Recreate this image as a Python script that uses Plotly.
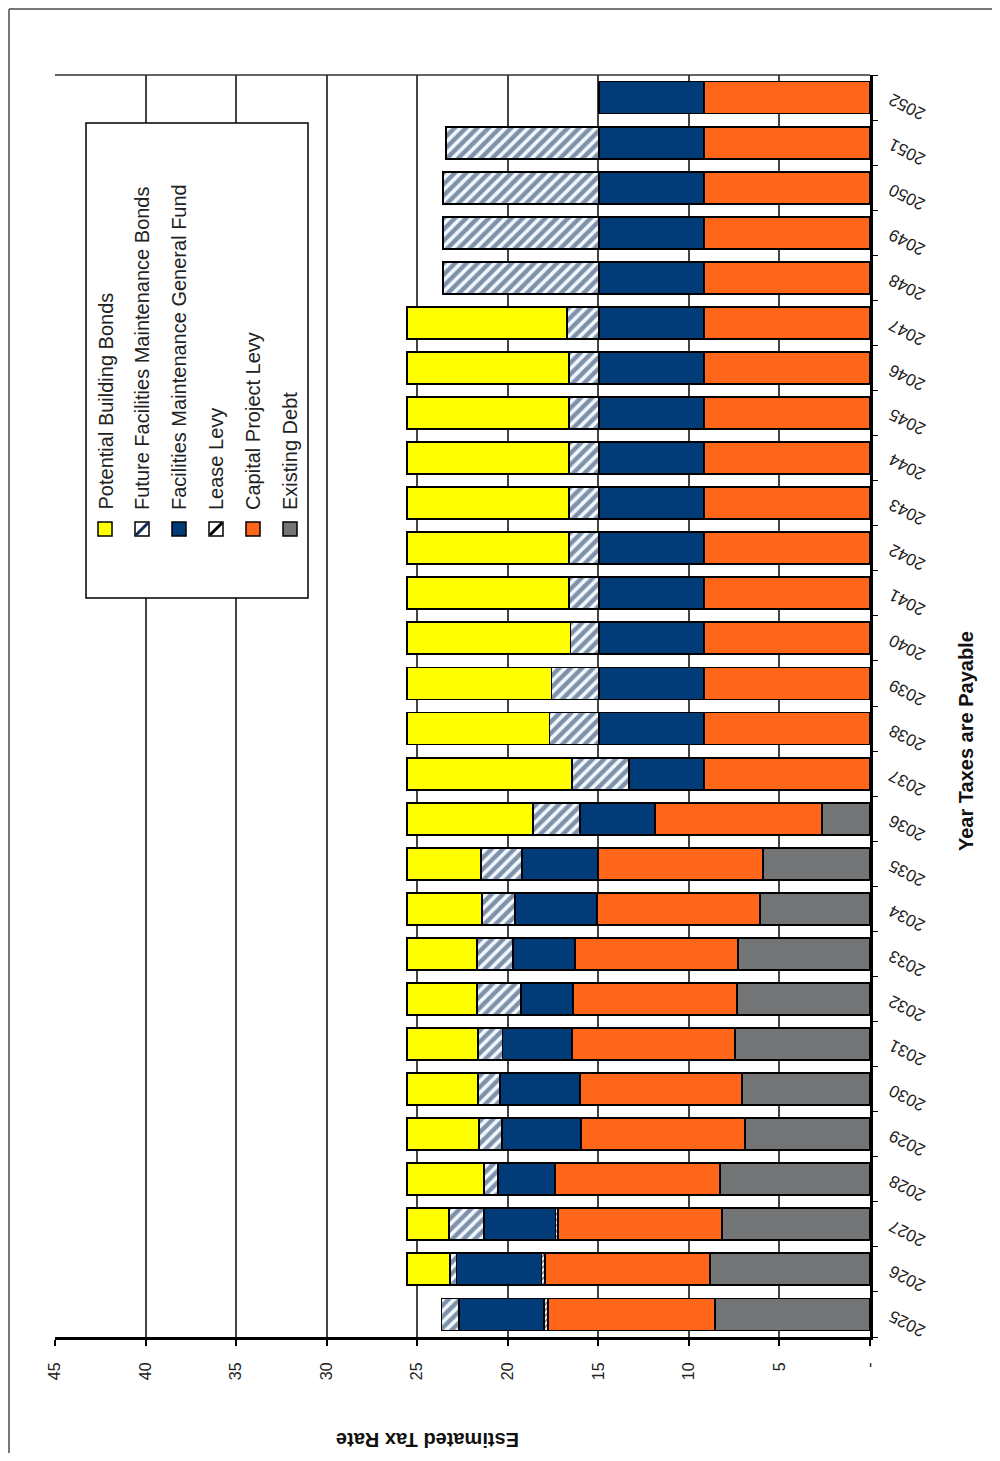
import plotly.graph_objects as go

years = [str(y) for y in range(2025, 2053)]

existing_debt = [8.56, 8.83, 8.19, 8.28, 6.90, 7.08, 7.45, 7.36, 7.27, 6.07, 5.89, 2.67,
                 None, None, None, None, None, None, None, None, None, None, None, None,
                 None, None, None, None]
capital_project_levy = [9.20, 9.11, 9.02, 9.11, 9.06, 8.93, 9.02, 9.02, 9.02, 9.02, 9.11, 9.20,
                        9.15, 9.15, 9.15, 9.15, 9.15, 9.15, 9.15, 9.15, 9.15, 9.15, 9.15, 9.15,
                        9.15, 9.15, 9.15, 9.15]
lease_levy = [0.25, 0.20, 0.15, None, None, None, None, None, None, None, None, None,
              None, None, None, None, None, None, None, None, None, None, None, None,
              None, None, None, None]
fm_general_fund = [4.69, 4.69, 3.96, 3.13, 4.36, 4.42, 3.82, 2.89, 3.40, 4.51, 4.23, 4.14,
                   4.16, 5.83, 5.83, 5.83, 5.83, 5.83, 5.83, 5.83, 5.83, 5.83, 5.83, 5.83,
                   5.83, 5.83, 5.83, 5.83]
future_fm_bonds = [0.96, 0.37, 1.93, 0.79, 1.27, 1.21, 1.35, 2.43, 1.99, 1.82, 2.25, 2.60,
                   3.14, 2.72, 2.61, 1.56, 1.64, 1.64, 1.64, 1.64, 1.64, 1.64, 1.75, 8.58,
                   8.58, 8.58, 8.43, None]
potential_building_bonds = [None, 2.38, 2.33, 4.27, 3.99, 3.94, 3.94, 3.88, 3.90, 4.16, 4.10, 6.97,
                            9.13, 7.88, 7.99, 9.04, 8.96, 8.96, 8.96, 8.96, 8.96, 8.96, 8.85, None,
                            None, None, None, None]

value_ticks = [45, 40, 35, 30, 25, 20, 15, 10, 5, 0]
value_tick_text = ['45', '40', '35', '30', '25', '20', '15', '10', '5', '-']

FONT = 'Liberation Sans, Arial, sans-serif'
YELLOW = '#FFFF00'
NAVY = '#013C78'
ORANGE = '#FF6619'
GRAY = '#737476'
HATCH_BLUE = '#0E2A56'
HATCH_BG = '#F0F7FD'

# page has an 8px body margin, so work in page pixels and offset the figure
OFF = 8
FIG_W, FIG_H = 1000 - 2 * OFF, 1461 - 2 * OFF
# plot area in page pixels
L, R, T, B = 55, 870, 75, 1337


def px_x(x):
    return (x - L) / (R - L)


def px_y(y):
    return (B - y) / (B - T)


series = [
    ('Existing Debt', existing_debt, dict(color=GRAY)),
    ('Capital Project Levy', capital_project_levy, dict(color=ORANGE)),
    ('Lease Levy', lease_levy, dict(color='white',
                                    pattern=dict(shape='/', fgcolor='black', bgcolor='white',
                                                 size=4, solidity=0.5))),
    ('Facilities Maintenance General Fund', fm_general_fund, dict(color=NAVY)),
    ('Future Facilities Maintenance Bonds', future_fm_bonds,
     dict(color=HATCH_BG, pattern=dict(shape='/', fgcolor=HATCH_BLUE, bgcolor=HATCH_BG,
                                       size=8, solidity=0.55))),
    ('Potential Building Bonds', potential_building_bonds, dict(color=YELLOW)),
]

fig = go.Figure()
for name, vals, marker in series:
    marker = dict(marker)
    marker['line'] = dict(color='black', width=1.8)
    fig.add_trace(go.Bar(
        y=years,
        x=vals,
        name=name,
        orientation='h',
        marker=marker,
        showlegend=False
    ))

shapes = []
annotations = []

# top border of plot area
shapes.append(dict(type='line', xref='paper', yref='paper', x0=0, x1=1, y0=1, y1=1,
                   line=dict(color='#333333', width=1.5), layer='above'))

# page frame (as close to the page edge as the figure allows)
shapes.append(dict(type='line', xref='paper', yref='paper', x0=px_x(9), x1=px_x(1000),
                   y0=px_y(9), y1=px_y(9), line=dict(color='#777777', width=2)))
shapes.append(dict(type='line', xref='paper', yref='paper', x0=px_x(9), x1=px_x(9),
                   y0=px_y(9), y1=px_y(1460), line=dict(color='#777777', width=2)))

# legend box (drawn by hand because the whole chart is rotated)
shapes.append(dict(type='rect', xref='paper', yref='paper', x0=px_x(86), x1=px_x(308),
                   y0=px_y(598), y1=px_y(123), fillcolor='white',
                   line=dict(color='black', width=1.5), layer='above'))

legend_items = [
    ('Potential Building Bonds', YELLOW, None),
    ('Future Facilities Maintenance Bonds', 'white', HATCH_BLUE),
    ('Facilities Maintenance General Fund', NAVY, None),
    ('Lease Levy', 'white', 'black'),
    ('Capital Project Levy', ORANGE, None),
    ('Existing Debt', GRAY, None),
]
for i, (label, fill, hatch) in enumerate(legend_items):
    cx = 105 + 37 * i
    cy = 529
    shapes.append(dict(type='rect', xref='paper', yref='paper',
                       x0=px_x(cx - 7), x1=px_x(cx + 7), y0=px_y(cy + 7), y1=px_y(cy - 7),
                       fillcolor=fill, line=dict(color='black', width=1.5), layer='above'))
    if hatch:
        shapes.append(dict(type='line', xref='paper', yref='paper',
                           x0=px_x(cx - 6), x1=px_x(cx + 6), y0=px_y(cy + 6), y1=px_y(cy - 6),
                           line=dict(color=hatch, width=3), layer='above'))
    annotations.append(dict(
        text=label, xref='paper', yref='paper', x=px_x(cx), y=px_y(512),
        xanchor='center', yanchor='bottom', textangle=-90, showarrow=False,
        font=dict(family=FONT, size=20, color='#222222')
    ))

# year labels, upside down like the scanned page (category index positions)
for idx, yr in enumerate(years):
    annotations.append(dict(
        text=yr, xref='paper', yref='y', x=px_x(907), y=idx, yshift=-9,
        xanchor='center', yanchor='middle', textangle=-153, showarrow=False,
        font=dict(family=FONT, size=17, color='#222222')
    ))

# axis titles
annotations.append(dict(
    text='<b>Year Taxes are Payable</b>', xref='paper', yref='paper',
    x=px_x(966), y=px_y(741), xanchor='center', yanchor='middle', textangle=-90,
    showarrow=False, font=dict(family=FONT, size=20, color='#111111')
))
annotations.append(dict(
    text='<b>Estimated Tax Rate</b>', xref='paper', yref='paper',
    x=px_x(428), y=px_y(1440), xanchor='center', yanchor='middle', textangle=180,
    showarrow=False, font=dict(family=FONT, size=20, color='#111111')
))

fig.update_layout(
    barmode='stack',
    bargap=0.29,
    width=FIG_W,
    height=FIG_H,
    autosize=False,
    margin=dict(l=L - OFF, r=OFF + FIG_W - R, t=T - OFF, b=OFF + FIG_H - B),
    paper_bgcolor='white',
    plot_bgcolor='white',
    font=dict(family=FONT, size=16, color='#222222'),
    xaxis=dict(
        range=[45, 0],
        tickmode='array',
        tickvals=value_ticks,
        ticktext=value_tick_text,
        tickangle=-90,
        showgrid=True,
        gridcolor='#444444',
        gridwidth=1.5,
        showline=True,
        linecolor='black',
        linewidth=3,
        ticks='outside',
        ticklen=6,
        tickwidth=2,
        tickcolor='black',
        ticklabelstandoff=10,
        zeroline=False,
        tickfont=dict(family=FONT, size=16, color='#222222')
    ),
    yaxis=dict(
        type='category',
        categoryorder='array',
        categoryarray=years,
        range=[-0.5, len(years) - 0.5],
        side='right',
        showticklabels=False,
        showline=True,
        linecolor='black',
        linewidth=3,
        ticks='outside',
        tickson='boundaries',
        ticklen=5,
        tickcolor='black',
        showgrid=False
    ),
    shapes=shapes,
    annotations=annotations,
    showlegend=False
)

fig.write_html("out.html")
